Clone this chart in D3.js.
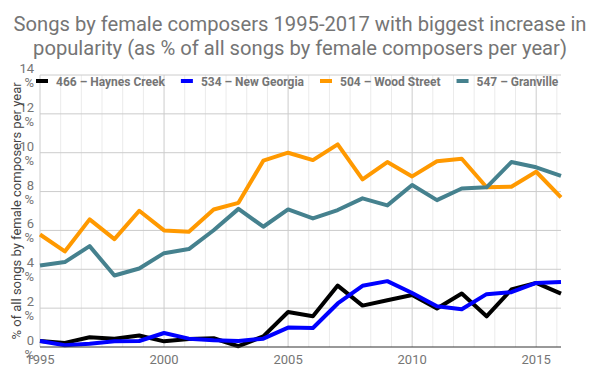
<!DOCTYPE html>
<html>
<head>
<meta charset="utf-8">
<script src="https://cdn.jsdelivr.net/npm/d3@7"></script>
<style>
  body { margin: 0; background: #fff; }
  text { font-family: Roboto, "Noto Sans", sans-serif; }
</style>
</head>
<body>
<div id="chart"></div>
<script>
// data
var years = d3.range(1995, 2017);
var seriesNames = ["466 – Haynes Creek", "534 – New Georgia", "504 – Wood Street", "547 – Granville"];
var seriesColors = ["#000000", "#0000ff", "#ff9900", "#45818e"];
var haynesCreek = [0.31, 0.21, 0.50, 0.43, 0.59, 0.29, 0.41, 0.45, 0.04, 0.55, 1.80, 1.58, 3.16, 2.13, 2.41, 2.68, 1.98, 2.75, 1.58, 2.96, 3.30, 2.75];
var newGeorgia  = [0.31, 0.09, 0.17, 0.29, 0.31, 0.72, 0.43, 0.35, 0.31, 0.43, 1.00, 0.98, 2.24, 3.15, 3.39, 2.78, 2.10, 1.94, 2.72, 2.82, 3.30, 3.34];
var woodStreet  = [5.79, 4.92, 6.57, 5.55, 7.01, 6.00, 5.93, 7.08, 7.42, 9.59, 10.00, 9.62, 10.43, 8.63, 9.52, 8.78, 9.56, 9.69, 8.22, 8.25, 9.02, 7.70];
var granville   = [4.19, 4.37, 5.19, 3.68, 4.04, 4.83, 5.04, 6.01, 7.11, 6.19, 7.08, 6.62, 7.05, 7.65, 7.29, 8.34, 7.56, 8.16, 8.22, 9.52, 9.25, 8.81];
var xTicks = [1995, 2000, 2005, 2010, 2015];
var yTicks = [0, 2, 4, 6, 8, 10, 12, 14];
var titleLines = ["Songs by female composers 1995-2017 with biggest increase in", "popularity (as % of all songs by female composers per year)"];
var yTitle = "% of all songs by female composers per year";

var W = 600, H = 371;
var plot = { left: 40, right: 561, top: 75, bottom: 347 };

var svg = d3.select("#chart").append("svg")
  .attr("width", W).attr("height", H);

var x = d3.scaleLinear().domain([1995, 2016]).range([plot.left, plot.right]);
var y = d3.scaleLinear().domain([0, 14]).range([plot.bottom, plot.top]);

// 제목
svg.append("g").selectAll("text")
  .data(titleLines).enter().append("text")
  .attr("x", W / 2)
  .attr("y", function(d, i) { return 31 + i * 23.5; })
  .attr("text-anchor", "middle")
  .attr("fill", "#757575")
  .attr("font-size", 20.2)
  .text(function(d) { return d; });

// 세로 보조 격자 (5 per major interval)
var minor = d3.range(0, 26).map(function(i) { return 1995 + i * 5 / 6; })
  .filter(function(v) { return v <= 2016.01 && xTicks.indexOf(Math.round(v * 1000) / 1000) < 0; });
svg.append("g").selectAll("line")
  .data(minor).enter().append("line")
  .attr("x1", function(d) { return x(d); }).attr("x2", function(d) { return x(d); })
  .attr("y1", plot.top).attr("y2", plot.bottom)
  .attr("stroke", "#ebebeb").attr("stroke-width", 1);

svg.append("g").selectAll("line")
  .data(xTicks).enter().append("line")
  .attr("x1", function(d) { return x(d); }).attr("x2", function(d) { return x(d); })
  .attr("y1", plot.top).attr("y2", plot.bottom)
  .attr("stroke", "#cccccc").attr("stroke-width", 1);

svg.append("g").selectAll("line")
  .data(yTicks.slice(1)).enter().append("line")
  .attr("x1", plot.left).attr("x2", plot.right)
  .attr("y1", function(d) { return y(d); }).attr("y2", function(d) { return y(d); })
  .attr("stroke", "#cccccc").attr("stroke-width", 1);

// y 라벨 (두 줄)
var yl = svg.append("g").selectAll("g")
  .data(yTicks).enter().append("g")
  .attr("transform", function(d) { return "translate(34," + y(d) + ")"; });
yl.append("text").attr("y", -2).attr("text-anchor", "end")
  .attr("fill", "#757575").attr("font-size", 13)
  .text(function(d) { return d; });
yl.append("text").attr("y", 12).attr("text-anchor", "end")
  .attr("fill", "#757575").attr("font-size", 13)
  .text("%");

// x 라벨
svg.append("g").selectAll("text")
  .data(xTicks).enter().append("text")
  .attr("x", function(d) { return x(d); })
  .attr("y", 364)
  .attr("text-anchor", "middle")
  .attr("fill", "#757575").attr("font-size", 13)
  .text(function(d) { return d; });

// y 축 제목
svg.append("text")
  .attr("transform", "translate(21," + ((plot.top + plot.bottom) / 2) + ") rotate(-90)")
  .attr("text-anchor", "middle")
  .attr("fill", "#444444").attr("font-size", 13)
  .text(yTitle);

// 선
var allSeries = [haynesCreek, newGeorgia, woodStreet, granville];
var line = d3.line()
  .x(function(d, i) { return x(years[i]); })
  .y(function(d) { return y(d); });
svg.append("g").selectAll("path")
  .data(allSeries).enter().append("path")
  .attr("d", function(d) { return line(d); })
  .attr("fill", "none")
  .attr("stroke", function(d, i) { return seriesColors[i]; })
  .attr("stroke-width", 4)
  .attr("stroke-linejoin", "round");

// 기준선
svg.append("line")
  .attr("x1", plot.left).attr("x2", plot.right)
  .attr("y1", y(0)).attr("y2", y(0))
  .attr("stroke", "#333333").attr("stroke-width", 1);

// 범례
var lg = svg.append("g");
var lx = 36;
seriesNames.forEach(function(name, i) {
  lg.append("rect")
    .attr("x", lx).attr("y", 79).attr("width", 12).attr("height", 4)
    .attr("fill", seriesColors[i]);
  var t = lg.append("text")
    .attr("x", lx + 20).attr("y", 85.5)
    .attr("fill", "#757575").attr("font-size", 12).attr("font-weight", "bold")
    .text(name);
  lx += 20 + t.node().getComputedTextLength() + 16;
});
</script>
</body>
</html>
